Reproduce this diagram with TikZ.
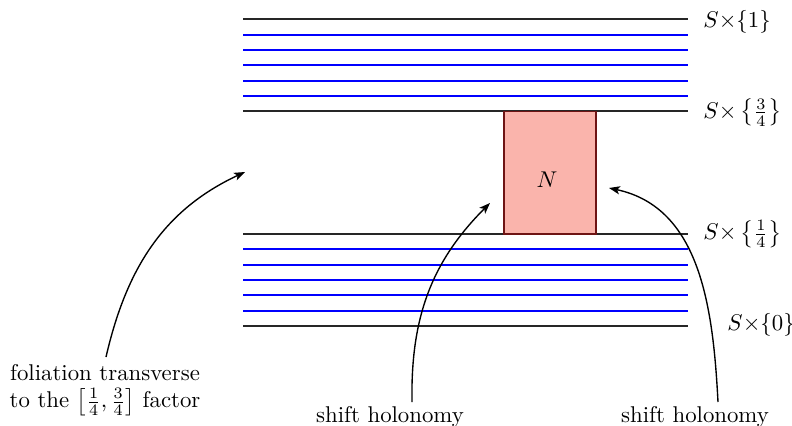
\documentclass[tikz,border=0pt]{standalone}
\usetikzlibrary{arrows.meta}
\definecolor{nfill}{RGB}{250,180,172}
\definecolor{nedge}{RGB}{110,20,20}
\begin{document}
\begin{tikzpicture}[x=0.4386pt,y=0.4386pt,
  leaf/.style={black!85, line width=0.75pt},
  bleaf/.style={blue, line width=0.8pt},
  nbox/.style={fill=nfill, draw=nedge, line width=0.6pt},
  lbl/.style={anchor=west, inner sep=0pt},
  txt/.style={align=center, inner sep=0pt},
  arr/.style={-{Stealth[length=4.8pt,width=3.6pt,inset=1.2pt]}, line width=0.6pt}]
\useasboundingbox (0,0) rectangle (792,-425);
% upper slab
\draw[leaf] (243,-19.3) -- (688,-19.3);
\foreach \k in {1,...,5} \draw[bleaf] (243,-19.3-15.33*\k) -- (688,-19.3-15.33*\k);
\draw[leaf] (243,-111.3) -- (688,-111.3);
% lower slab
\draw[leaf] (243,-234) -- (688,-234);
\foreach \k in {1,...,5} \draw[bleaf] (243,-234-15.33*\k) -- (688,-234-15.33*\k);
\draw[leaf] (243,-326) -- (688,-326);
% box N
\draw[nbox] (504,-111.3) rectangle (596,-234);
\node (N) at (547,-180) {$N$};
% labels
\node[lbl] (s1) at (703,-21.5) {$S{\times}\{1\}$};
\node[lbl] (s34) at (703,-112.5) {$S{\times}\left\{\frac{3}{4}\right\}$};
\node[lbl] (s14) at (703,-234) {$S{\times}\left\{\frac{1}{4}\right\}$};
\node[lbl] (s0) at (727,-325) {$S{\times}\{0\}$};
% text labels
\node[txt] (fol) at (105,-390) {foliation transverse\\ to the $\left[\frac{1}{4},\frac{3}{4}\right]$ factor};
\node[txt, anchor=base] (sh1) at (390,-422) {shift holonomy};
\node[txt, anchor=base] (sh2) at (695,-422) {shift holonomy};
% arrow ends
\coordinate (a1s) at (106,-357);
\coordinate (a1e) at (245,-172);
\coordinate (a2s) at (412,-402);
\coordinate (a2e) at (490,-203);
\coordinate (a3s) at (718,-402);
\coordinate (a3e) at (609,-188);
\draw[arr] (a1s) to[out=77, in=205] (a1e);
\draw[arr] (a2s) to[out=91, in=225] (a2e);
\draw[arr] (a3s) to[out=93, in=-12] (a3e);
\end{tikzpicture}
\end{document}
